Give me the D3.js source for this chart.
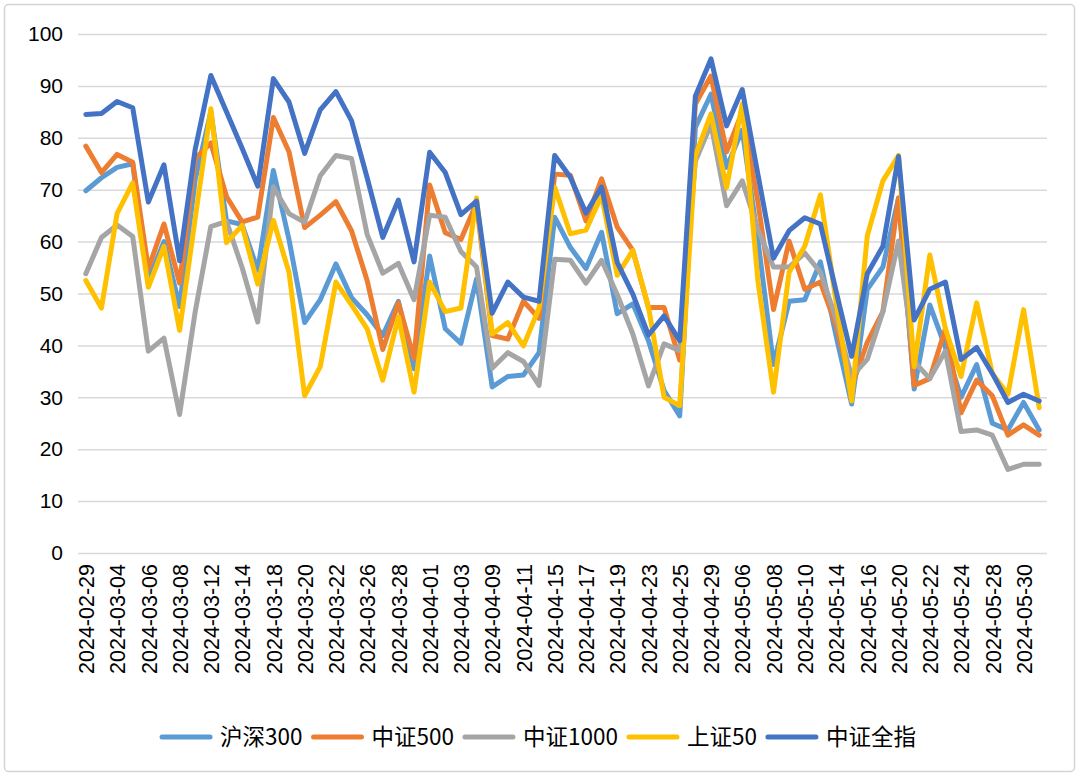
<!DOCTYPE html>
<html>
<head>
<meta charset="utf-8">
<script src="https://cdn.jsdelivr.net/npm/d3@7"></script>
<style>
  html, body { margin: 0; padding: 0; background: #ffffff; }
  svg { display: block; }
  .tick text { font-family: "Liberation Sans", Arial, sans-serif; fill: #000; }
</style>
</head>
<body>
<svg id="chart" width="1080" height="777"></svg>
<script>
const dates = ["2024-02-29","2024-03-01","2024-03-04","2024-03-05","2024-03-06","2024-03-07","2024-03-08","2024-03-11","2024-03-12","2024-03-13","2024-03-14","2024-03-15","2024-03-18","2024-03-19","2024-03-20","2024-03-21","2024-03-22","2024-03-25","2024-03-26","2024-03-27","2024-03-28","2024-03-29","2024-04-01","2024-04-02","2024-04-03","2024-04-08","2024-04-09","2024-04-10","2024-04-11","2024-04-12","2024-04-15","2024-04-16","2024-04-17","2024-04-18","2024-04-19","2024-04-22","2024-04-23","2024-04-24","2024-04-25","2024-04-26","2024-04-29","2024-04-30","2024-05-06","2024-05-07","2024-05-08","2024-05-09","2024-05-10","2024-05-13","2024-05-14","2024-05-15","2024-05-16","2024-05-17","2024-05-20","2024-05-21","2024-05-22","2024-05-23","2024-05-24","2024-05-27","2024-05-28","2024-05-29","2024-05-30","2024-05-31"];

const hs300 = [69.8,72.3,74.3,75.0,52.5,60.0,47.5,72.0,85.0,64.0,63.3,54.5,73.7,60.4,44.4,48.8,55.7,49.2,45.9,41.9,48.5,35.5,57.2,43.2,40.4,52.8,32.0,34.0,34.3,38.6,64.7,58.9,54.8,61.8,46.1,48.0,40.9,31.3,26.4,82.0,88.4,74.3,81.5,60.4,36.3,48.5,48.8,56.1,41.9,28.7,50.8,55.1,68.4,31.6,47.8,39.6,30.0,36.3,25.0,23.7,29.0,23.7];
const zz500 = [78.4,73.3,76.8,75.3,54.8,63.4,52.0,76.0,79.0,68.7,63.8,64.7,83.9,77.3,62.7,65.1,67.7,62.1,52.5,39.2,48.2,37.5,70.9,61.7,60.4,67.4,41.9,41.2,48.5,45.2,73.0,72.8,64.0,72.1,62.8,58.3,47.3,47.3,37.2,86.5,91.9,77.3,85.0,67.7,46.9,60.1,50.8,52.2,43.9,32.0,40.6,46.5,68.4,32.3,33.6,43.2,27.0,33.3,30.3,22.7,24.7,22.7];
const zz1000 = [53.8,60.8,63.2,61.0,38.9,41.4,26.7,46.5,62.9,63.9,55.0,44.5,70.5,65.4,63.7,72.7,76.6,76.0,61.4,53.9,55.8,48.8,65.1,64.7,58.1,55.1,35.6,38.6,36.9,32.3,56.6,56.4,52.0,56.4,49.8,42.2,32.2,40.3,39.0,75.5,82.6,66.9,71.7,62.4,55.1,55.1,57.8,54.1,45.2,34.0,37.3,46.5,60.1,36.9,33.6,38.9,23.4,23.7,22.7,16.1,17.1,17.1];
const sz50 = [52.5,47.2,65.4,71.3,51.2,59.1,42.9,64.5,85.6,59.8,63.1,51.8,64.1,54.1,30.3,35.9,52.2,47.8,43.2,33.3,45.5,31.0,52.2,46.5,47.2,68.4,42.2,44.4,39.9,47.2,70.5,61.5,62.2,68.9,53.5,58.3,47.4,30.0,28.4,76.5,84.6,70.4,86.5,52.5,31.0,54.1,59.1,69.0,48.5,29.3,61.1,71.7,76.6,35.9,57.4,43.2,34.0,48.2,34.6,30.6,46.9,28.0];
const zzqz = [84.5,84.7,87.0,85.8,67.6,74.8,56.3,77.8,92.0,85.0,78.0,70.7,91.4,86.9,77.0,85.4,88.9,83.3,72.3,60.8,68.0,56.1,77.2,73.3,65.2,67.8,46.2,52.2,49.3,48.5,76.6,72.4,65.5,70.5,56.0,49.9,42.0,45.7,40.9,88.0,95.2,82.3,89.3,73.0,56.8,62.1,64.6,63.4,50.5,37.9,53.8,59.1,76.4,44.9,50.8,52.2,37.3,39.6,34.6,29.0,30.6,29.3];

const seriesNames = ["沪深300","中证500","中证1000","上证50","中证全指"];
const seriesColors = ["#5B9BD5","#ED7D31","#A5A5A5","#FFC000","#4472C4"];
const yTicks = [0,10,20,30,40,50,60,70,80,90,100];

const seriesValues = [hs300, zz500, zz1000, sz50, zzqz];

const svg = d3.select("#chart");
const plot = {left: 78, right: 1047, top: 34, bottom: 553};

// outer frame
svg.append("rect")
  .attr("x", 4.5).attr("y", 4.5)
  .attr("width", 1070).attr("height", 767)
  .attr("rx", 4)
  .attr("fill", "#fff")
  .attr("stroke", "#d4d4d4")
  .attr("stroke-width", 1.5);

const x = d3.scalePoint().domain(dates).range([plot.left, plot.right]).padding(0.5);
const y = d3.scaleLinear().domain([0, 100]).range([plot.bottom, plot.top]);

// y axis with gridlines
const yAxis = svg.append("g")
  .attr("transform", `translate(${plot.left},0)`)
  .call(d3.axisLeft(y).tickValues(yTicks).tickSize(-(plot.right - plot.left)).tickPadding(15));
yAxis.select(".domain").remove();
yAxis.selectAll(".tick line").attr("stroke", "#d9d9d9").attr("stroke-width", 1.5);
yAxis.selectAll(".tick text").style("font-size", "21px");

// x axis labels
const xAxis = svg.append("g")
  .attr("transform", `translate(0,${plot.bottom})`)
  .call(d3.axisBottom(x).tickValues(dates.filter((d, i) => i % 2 === 0)).tickSize(0));
xAxis.select(".domain").remove();
xAxis.selectAll(".tick text")
  .style("font-size", "21.5px")
  .style("text-anchor", "end")
  .attr("transform", "rotate(-90)")
  .attr("x", -11)
  .attr("y", 0)
  .attr("dy", "0.36em");

// lines
const line = d3.line()
  .x((d, i) => x(dates[i]))
  .y(d => y(d));

seriesValues.forEach((vals, k) => {
  svg.append("path")
    .datum(vals)
    .attr("fill", "none")
    .attr("stroke", seriesColors[k])
    .attr("stroke-width", 5)
    .attr("stroke-linejoin", "round")
    .attr("stroke-linecap", "round")
    .attr("d", line);
});

// legend
const legend = svg.append("g");
const lineLen = 50, gapLT = 10, gapTL = 9;
const items = [];
seriesNames.forEach((name, k) => {
  const g = legend.append("g");
  g.append("line")
    .attr("x1", 2).attr("x2", lineLen)
    .attr("y1", 0).attr("y2", 0)
    .attr("stroke", seriesColors[k])
    .attr("stroke-width", 5)
    .attr("stroke-linecap", "round");
  const t = g.append("text")
    .attr("x", lineLen + gapLT)
    .attr("y", 0)
    .attr("dy", "0.36em")
    .style("font-family", "'Noto Sans CJK SC', 'Liberation Sans', sans-serif")
    .style("font-size", "22.5px")
    .attr("fill", "#000")
    .text(name);
  const w = lineLen + gapLT + t.node().getComputedTextLength();
  items.push({g, w});
});
const total = items.reduce((s, it) => s + it.w, 0) + gapTL * (items.length - 1);
let start = 538 - total / 2;
items.forEach(it => {
  it.g.attr("transform", `translate(${start},737)`);
  start += it.w + gapTL;
});
</script>
</body>
</html>
